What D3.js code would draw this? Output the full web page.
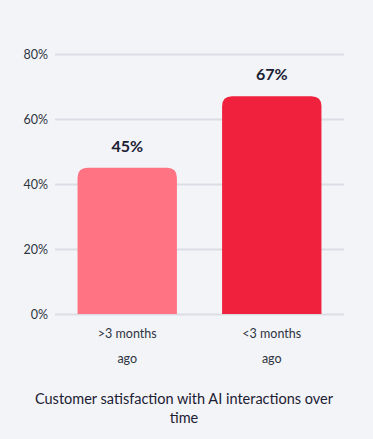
<!DOCTYPE html>
<html>
<head>
<meta charset="utf-8">
<script src="https://cdn.jsdelivr.net/npm/d3@7"></script>
<style>
  body { margin: 0; background: #f3f4f8; }
  svg text { font-family: "Lato", "Noto Sans", sans-serif; }
</style>
</head>
<body>
<div id="chart"></div>
<script>
// chart data
var categories = [">3 months|ago", "<3 months|ago"];
var values = [45, 67];
var yTicks = [0, 20, 40, 60, 80];
var barColors = ["#ff7383", "#f0213d"];
var title = ["Customer satisfaction with AI interactions over", "time"];

var W = 373, H = 439;
var margin = { top: 54, left: 55, right: 29, bottom: 125 };
var width = W - margin.left - margin.right,
    height = H - margin.top - margin.bottom;

var svg = d3.select("#chart").append("svg")
    .attr("width", W)
    .attr("height", H);

svg.append("rect").attr("width", W).attr("height", H).attr("fill", "#f3f4f8");

var g = svg.append("g").attr("transform", "translate(" + margin.left + "," + margin.top + ")");

var x = d3.scaleBand()
    .domain(categories)
    .range([0, width])
    .paddingInner(0.3125)
    .paddingOuter(0.156);

var y = d3.scaleLinear().domain([0, 80]).range([height, 0]);

// gridlines + tick labels
var yAxis = g.append("g")
    .call(d3.axisLeft(y).tickValues(yTicks).tickSize(-width).tickFormat(function(d){ return d + "%"; }));
yAxis.select(".domain").remove();
yAxis.selectAll(".tick line").attr("stroke", "#dcdde4").attr("stroke-width", 2);
yAxis.selectAll(".tick text")
    .attr("x", -7)
    .attr("fill", "#2e3440")
    .style("font-size", "12.5px");

// bars with rounded top corners
var r = 10;
function barPath(d, i) {
    var x0 = x(categories[i]), w = x.bandwidth(),
        y0 = y(d), y1 = y(0);
    return "M" + x0 + "," + y1 +
        "V" + (y0 + r) +
        "Q" + x0 + "," + y0 + " " + (x0 + r) + "," + y0 +
        "H" + (x0 + w - r) +
        "Q" + (x0 + w) + "," + y0 + " " + (x0 + w) + "," + (y0 + r) +
        "V" + y1 + "Z";
}

g.selectAll(".bar")
    .data(values)
    .enter().append("path")
    .attr("class", "bar")
    .attr("d", barPath)
    .attr("fill", function(d, i){ return barColors[i]; });

g.selectAll(".val")
    .data(values)
    .enter().append("text")
    .attr("class", "val")
    .attr("x", function(d, i){ return x(categories[i]) + x.bandwidth() / 2; })
    .attr("y", function(d){ return y(d) - 16; })
    .attr("text-anchor", "middle")
    .attr("fill", "#1b2033")
    .style("font-size", "16px")
    .style("font-weight", "bold")
    .text(function(d){ return d + "%"; });

// category labels, two lines each
var cat = g.selectAll(".cat")
    .data(categories)
    .enter().append("text")
    .attr("class", "cat")
    .attr("text-anchor", "middle")
    .attr("fill", "#2e3440")
    .style("font-size", "12.5px");
cat.selectAll("tspan")
    .data(function(d){ return d.split("|").map(function(s){ return { s: s, c: d }; }); })
    .enter().append("tspan")
    .attr("x", function(d){ return x(d.c) + x.bandwidth() / 2; })
    .attr("y", function(d, i){ return height + 24 + i * 25; })
    .text(function(d){ return d.s; });

// title
svg.append("text")
    .attr("text-anchor", "middle")
    .attr("fill", "#1b2033")
    .style("font-size", "14.5px")
    .selectAll("tspan")
    .data(title)
    .enter().append("tspan")
    .attr("x", 184)
    .attr("y", function(d, i){ return 404 + i * 19; })
    .text(function(d){ return d; });
</script>
</body>
</html>
